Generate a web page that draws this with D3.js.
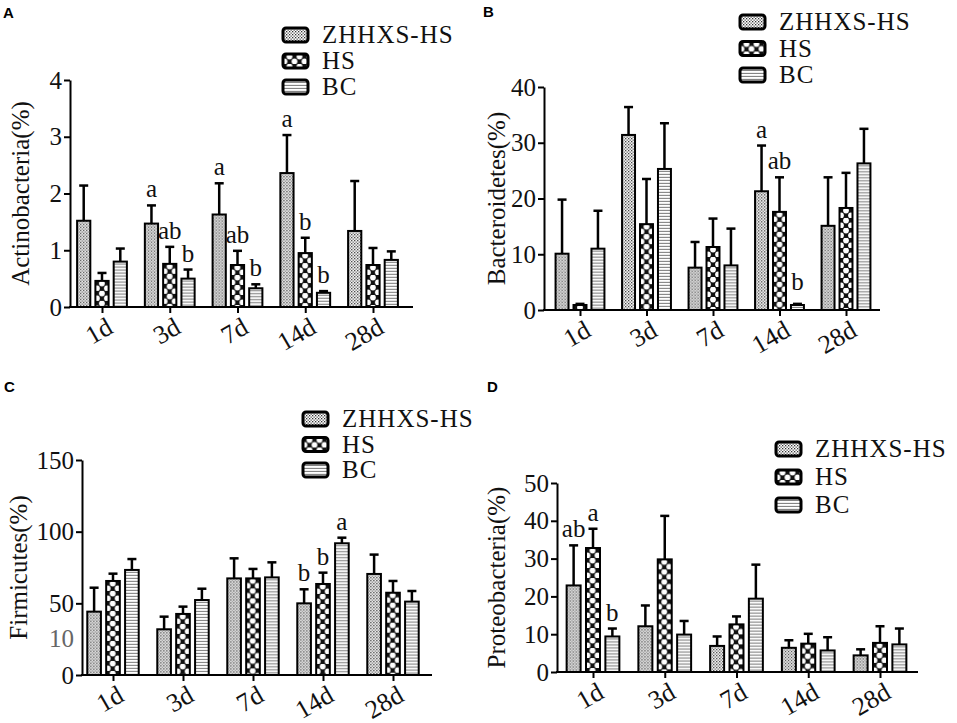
<!DOCTYPE html>
<html lang="en">
<head>
<meta charset="UTF-8">
<title>Phylum abundance</title>
<script src="https://d3js.org/d3.v7.min.js"></script>
<style>
    body { margin: 0; background: #fff; }
    svg { display: block; }
    .axis path, .axis line { stroke: #000; stroke-width: 2; }
    .panel-id { font-family: "Liberation Sans", Arial, sans-serif; font-weight: bold; font-size: 15px; }
</style>
</head>
<body>
<script>
const days = ["1d", "3d", "7d", "14d", "28d"];
const groups = ["ZHHXS-HS", "HS", "BC"];

// A - Actinobacteria (mean, top of error bar)
const actinoMean = [[1.52, 1.47, 1.63, 2.36, 1.34], [0.46, 0.76, 0.74, 0.95, 0.74], [0.80, 0.50, 0.33, 0.25, 0.83]];
const actinoUpper = [[2.14, 1.79, 2.18, 3.03, 2.22], [0.60, 1.06, 0.99, 1.22, 1.04], [1.03, 0.66, 0.40, 0.28, 0.98]];
const actinoTicks = [0, 1, 2, 3, 4];
const actinoLetters = [[1, 0, "a"], [1, 1, "ab"], [1, 2, "b"], [2, 0, "a"], [2, 1, "ab"], [2, 2, "b"], [3, 0, "a"], [3, 1, "b"], [3, 2, "b"]];

// B - Bacteroidetes
const bactMean = [[10.1, 31.4, 7.6, 21.3, 15.1], [0.9, 15.4, 11.3, 17.6, 18.3], [11.0, 25.3, 8.0, 0.9, 26.3]];
const bactUpper = [[19.8, 36.4, 12.2, 29.5, 23.8], [1.1, 23.5, 16.4, 23.8, 24.6], [17.8, 33.5, 14.6, 1.1, 32.5]];
const bactTicks = [0, 10, 20, 30, 40];
const bactLetters = [[3, 0, "a"], [3, 1, "ab"], [3, 2, "b"]];

// C - Firmicutes
const firmiMean = [[44.2, 31.9, 67.4, 50.0, 70.5], [65.6, 42.6, 67.4, 63.5, 57.4], [73.3, 52.3, 68.1, 91.9, 51.2]];
const firmiUpper = [[60.9, 40.7, 81.4, 59.8, 84.0], [70.7, 47.7, 74.0, 71.4, 65.6], [80.9, 60.2, 78.6, 95.8, 58.6]];
const firmiTicks = [0, 50, 100, 150];
const firmiStrayTick = [25];
const firmiStrayLabel = ["10"];
const firmiLetters = [[3, 0, "b"], [3, 1, "b"], [3, 2, "a"]];

// D - Proteobacteria
const proteoMean = [[22.9, 12.1, 6.9, 6.4, 4.4], [32.8, 29.8, 12.6, 7.5, 7.7], [9.4, 9.9, 19.4, 5.7, 7.3]];
const proteoUpper = [[33.5, 17.6, 9.4, 8.4, 6.0], [37.9, 41.3, 14.7, 10.1, 12.1], [11.5, 13.5, 28.4, 9.2, 11.5]];
const proteoTicks = [0, 10, 20, 30, 40, 50];
const proteoLetters = [[0, 0, "ab"], [0, 1, "a"], [0, 2, "b"]];

const panels = [
    { id: "A", idX: 3, idY: 18, title: "Actinobacteria(%)", mean: actinoMean, upper: actinoUpper, ticks: actinoTicks, letters: actinoLetters,
      yMax: 4, y0: 307, yTop: 80, axisX: 70, xEnd: 413, first: 102, step: 67.75, titleX: 20, legX: 283, legY: 28, legStep: 26 },
    { id: "B", idX: 483, idY: 17, title: "Bacteroidetes(%)", mean: bactMean, upper: bactUpper, ticks: bactTicks, letters: bactLetters,
      yMax: 40, y0: 310, yTop: 87, axisX: 544, xEnd: 880, first: 580, step: 66.5, titleX: 496, legX: 740, legY: 15, legStep: 26.5 },
    { id: "C", idX: 4, idY: 392, title: "Firmicutes(%)", mean: firmiMean, upper: firmiUpper, ticks: firmiTicks, letters: firmiLetters,
      yMax: 150, y0: 675, yTop: 460, axisX: 82, xEnd: 432, first: 113, step: 70, titleX: 18, legX: 303, legY: 412, legStep: 25.5,
      strayTick: firmiStrayTick, strayLabel: firmiStrayLabel },
    { id: "D", idX: 487, idY: 392, title: "Proteobacteria(%)", mean: proteoMean, upper: proteoUpper, ticks: proteoTicks, letters: proteoLetters,
      yMax: 50, y0: 672, yTop: 483, axisX: 557, xEnd: 918, first: 593, step: 71.75, titleX: 496, legX: 776, legY: 442, legStep: 28 }
];

const serif = '"Liberation Serif", "Times New Roman", serif';
const barOffset = [-0.27, 0, 0.27];   // in units of category step
const barWidth = 0.195;

const svg = d3.select("body").append("svg")
    .attr("width", 957)
    .attr("height", 723);

// fill patterns, tiled in each bar's own coordinates
const defs = svg.append("defs");

const pDots = defs.append("pattern").attr("id", "pat0")
    .attr("patternUnits", "userSpaceOnUse").attr("width", 3).attr("height", 3);
pDots.append("rect").attr("width", 3).attr("height", 3).attr("fill", "#fff");
pDots.append("rect").attr("width", 1.3).attr("height", 1.3).attr("fill", "#333");
pDots.append("rect").attr("x", 1.5).attr("y", 1.5).attr("width", 1.3).attr("height", 1.3).attr("fill", "#555");

const pCircles = defs.append("pattern").attr("id", "pat1")
    .attr("patternUnits", "userSpaceOnUse").attr("x", 1.5).attr("width", 10).attr("height", 10);
pCircles.append("rect").attr("width", 10).attr("height", 10).attr("fill", "#111");
[[5, 2.5], [0, 7.5], [10, 7.5]].forEach(c => {
    pCircles.append("circle").attr("cx", c[0]).attr("cy", c[1]).attr("r", 2.9).attr("fill", "#fff");
});

const pStripes = defs.append("pattern").attr("id", "pat2")
    .attr("patternUnits", "userSpaceOnUse").attr("width", 4).attr("height", 3);
pStripes.append("rect").attr("width", 4).attr("height", 3).attr("fill", "#fff");
pStripes.append("rect").attr("y", 1.9).attr("width", 4).attr("height", 0.9).attr("fill", "#666");

function drawPanel(p) {
    const g = svg.append("g");

    const y = d3.scaleLinear().domain([0, p.yMax]).range([p.y0, p.yTop]);
    const x = d3.scaleLinear().domain([0, days.length - 1]).range([p.first, p.first + p.step * (days.length - 1)]);

    // bars
    p.mean.forEach((series, gi) => {
        series.forEach((v, di) => {
            const w = barWidth * p.step;
            const cx = x(di) + barOffset[gi] * p.step;
            const top = p.upper[gi][di];

            // error bar (upper only)
            g.append("line")
                .attr("x1", cx).attr("x2", cx)
                .attr("y1", y(v)).attr("y2", y(top))
                .attr("stroke", "#000").attr("stroke-width", 2.5);
            g.append("line")
                .attr("x1", cx - 4.5).attr("x2", cx + 4.5)
                .attr("y1", y(top)).attr("y2", y(top))
                .attr("stroke", "#000").attr("stroke-width", 2.5);

            g.append("g")
                .attr("transform", `translate(${cx - w / 2},${y(v)})`)
                .append("rect")
                .attr("width", w)
                .attr("height", Math.max(0, y(0) - y(v)))
                .attr("fill", `url(#pat${gi})`)
                .attr("stroke", "#000")
                .attr("stroke-width", 2);
        });
    });

    // significance letters
    g.selectAll(".sig")
        .data(p.letters)
        .enter().append("text")
        .attr("x", d => x(d[0]) + barOffset[d[1]] * p.step)
        .attr("y", d => Math.min(y(p.upper[d[1]][d[0]]) - 8, y(0) - 20))
        .attr("text-anchor", "middle")
        .attr("font-family", serif)
        .attr("font-size", 25)
        .attr("fill", "#111")
        .text(d => d[2]);

    // y axis
    const ya = g.append("g")
        .attr("class", "axis")
        .attr("transform", `translate(${p.axisX},0)`)
        .call(d3.axisLeft(y).tickValues(p.ticks).tickFormat(d3.format("d")).tickSize(6).tickSizeOuter(0).tickPadding(2));
    ya.selectAll(".tick text")
        .attr("font-family", serif)
        .attr("font-size", 25)
        .attr("fill", "#111");

    if (p.strayTick) {
        g.selectAll(".stray")
            .data(p.strayTick)
            .enter().append("text")
            .attr("x", p.axisX - 8)
            .attr("y", d => y(d))
            .attr("dy", "0.32em")
            .attr("text-anchor", "end")
            .attr("font-family", serif)
            .attr("font-size", 25)
            .attr("fill", "#666")
            .text((d, i) => p.strayLabel[i]);
    }

    // x axis
    const xa = g.append("g")
        .attr("class", "axis")
        .attr("transform", `translate(0,${p.y0})`)
        .call(d3.axisBottom(x).tickValues(d3.range(days.length)).tickFormat(i => days[i]).tickSize(6).tickSizeOuter(0));
    xa.select(".domain").remove();
    xa.append("line")
        .attr("x1", p.axisX - 1).attr("x2", p.xEnd)
        .attr("stroke", "#000").attr("stroke-width", 2);
    xa.selectAll(".tick text")
        .attr("font-family", serif)
        .attr("font-size", 26)
        .attr("fill", "#111")
        .attr("text-anchor", "end")
        .attr("dy", null)
        .attr("y", null)
        .attr("transform", "translate(12,25) rotate(-30)");

    // y title
    g.append("text")
        .attr("transform", `translate(${p.titleX},${(p.y0 + p.yTop) / 2}) rotate(-90)`)
        .attr("dy", "0.35em")
        .attr("text-anchor", "middle")
        .attr("font-family", serif)
        .attr("font-size", 25)
        .attr("fill", "#111")
        .text(p.title);

    // legend
    const leg = g.selectAll(".leg")
        .data(groups)
        .enter().append("g")
        .attr("transform", (d, i) => `translate(${p.legX},${p.legY + i * p.legStep})`);
    leg.append("rect")
        .attr("width", 25).attr("height", 14)
        .attr("rx", 3)
        .attr("fill", (d, i) => `url(#pat${i})`)
        .attr("stroke", "#000").attr("stroke-width", 3);
    leg.append("text")
        .attr("x", 39).attr("y", 15)
        .attr("font-family", serif)
        .attr("font-size", 25)
        .attr("letter-spacing", 1)
        .attr("fill", "#111")
        .text(d => d);

    // panel letter
    svg.append("text")
        .attr("class", "panel-id")
        .attr("x", p.idX).attr("y", p.idY)
        .text(p.id);
}

panels.forEach(drawPanel);
</script>
</body>
</html>
